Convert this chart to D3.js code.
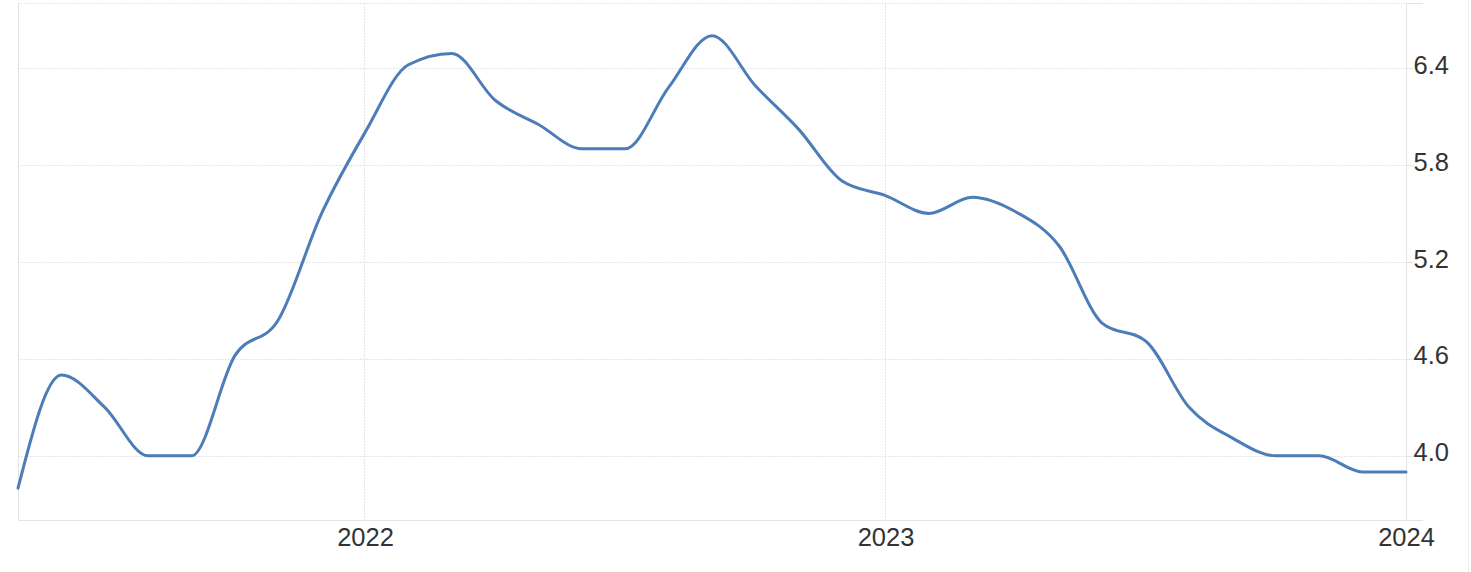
<!DOCTYPE html>
<html><head><meta charset="utf-8">
<script src="https://cdn.jsdelivr.net/npm/d3@7"></script>
<style>
html,body{margin:0;padding:0;background:#fff;}
svg{display:block;}
text{font-family:"Liberation Sans",Arial,sans-serif;}
</style></head>
<body>
<svg id="chart" width="1471" height="572"></svg>
<script>
const months = ["2021-05","2021-06","2021-07","2021-08","2021-09","2021-10","2021-11","2021-12",
"2022-01","2022-02","2022-03","2022-04","2022-05","2022-06","2022-07","2022-08","2022-09","2022-10","2022-11","2022-12",
"2023-01","2023-02","2023-03","2023-04","2023-05","2023-06","2023-07","2023-08","2023-09","2023-10","2023-11","2023-12","2024-01"];
const values = [3.80,4.50,4.30,4.00,4.00,4.62,4.84,5.50,
6.00,6.42,6.49,6.20,6.05,5.90,5.90,6.28,6.60,6.29,6.02,5.70,
5.61,5.50,5.60,5.51,5.30,4.82,4.71,4.30,4.11,4.00,4.00,3.90,3.90];
const yTicks = [4.0,4.6,5.2,5.8,6.4];
const xTickMonths = ["2022-01","2023-01","2024-01"];
const xTickLabels = ["2022","2023","2024"];

(function(){
const data = months.map((m,i)=>({idx:i, value:values[i]}));

const svg = d3.select("#chart");
const pLeft = 18, pRight = 1406, pTop = 3.3, pBottom = 520.5;

const x = d3.scaleLinear().domain([0, months.length-1]).range([pLeft, pRight]);
const y = d3.scaleLinear().domain([3.6, 6.8]).range([pBottom, pTop]);
const xTickIdx = xTickMonths.map(m=>months.indexOf(m));

const grid = "#dcdcdc";
svg.append("g").selectAll("line").data(yTicks.concat([6.8])).join("line")
  .attr("x1", pLeft).attr("x2", pRight)
  .attr("y1", d=>Math.round(y(d))+0.5).attr("y2", d=>Math.round(y(d))+0.5)
  .attr("stroke", grid).attr("stroke-dasharray","1.5,1.5");
svg.append("g").selectAll("line").data(xTickIdx.slice(0,2)).join("line")
  .attr("x1", d=>Math.round(x(d))-0.5).attr("x2", d=>Math.round(x(d))-0.5)
  .attr("y1", pTop).attr("y2", pBottom)
  .attr("stroke", grid).attr("stroke-dasharray","1.5,1.5");

const yAxis = d3.axisRight(y).tickValues(yTicks).tickFormat(d3.format(".1f")).tickSize(7).tickPadding(0);
const gy = svg.append("g").attr("transform",`translate(${pRight+0.5},0)`).call(yAxis);
gy.select(".domain").attr("stroke","#e3e3e3").attr("d",`M0,${pTop}V${pBottom}`);
gy.selectAll(".tick line").attr("stroke","#e3e3e3");
gy.selectAll(".tick text").attr("fill","#333").attr("font-size",25.5).attr("dy","0.2em");

const xAxis = d3.axisBottom(x).tickValues(xTickIdx).tickFormat((d,i)=>xTickLabels[i]).tickSize(0).tickPadding(7);
const gx = svg.append("g").attr("transform",`translate(0,${Math.round(pBottom)-0.5})`).call(xAxis);
gx.select(".domain").attr("stroke","#e3e3e3").attr("d",`M${pLeft},0H${pRight+17}`);
gx.selectAll(".tick text").attr("fill","#333").attr("font-size",25.5);

svg.append("line").attr("x1",pRight).attr("x2",pRight+17).attr("y1",3.5).attr("y2",3.5).attr("stroke","#e3e3e3");
svg.append("line").attr("x1",pLeft+0.5).attr("x2",pLeft+0.5).attr("y1",pTop).attr("y2",pBottom).attr("stroke","#e3e3e3");
svg.append("line").attr("x1",1468.5).attr("x2",1468.5).attr("y1",0).attr("y2",572).attr("stroke","#eeeeee");

const line = d3.line().x(d=>x(d.idx)).y(d=>y(d.value)).curve(d3.curveMonotoneX);
svg.append("path").datum(data).attr("d",line).attr("fill","none")
  .attr("stroke","#4d7db8").attr("stroke-width",3).attr("stroke-linejoin","round").attr("stroke-linecap","round");
})();
</script>
</body></html>
